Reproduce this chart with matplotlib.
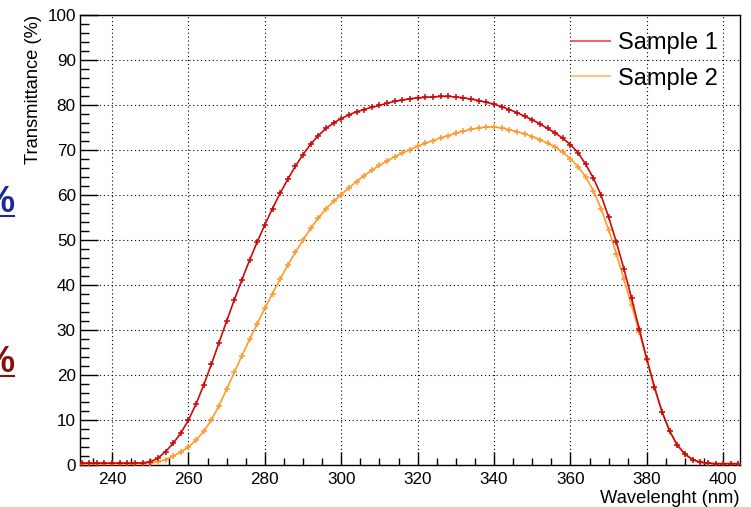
import numpy as np
import matplotlib
matplotlib.use("Agg")
import matplotlib.pyplot as plt
from matplotlib.lines import Line2D
from matplotlib.ticker import MultipleLocator

plt.rcParams['font.family'] = ['Liberation Sans', 'DejaVu Sans']

## data (every 2 nm)
wavelength = np.arange(232, 405, 2)

sample1 = [0.4, 0.4, 0.4, 0.4, 0.4, 0.4, 0.4, 0.4, 0.5, 0.7,          # 232-250
           1.5, 3.0, 4.8, 7.1, 10.0, 13.6, 17.8, 22.4, 27.2, 32.0,     # 252-270
           36.7, 41.2, 45.5, 49.6, 53.4, 57.0, 60.4, 63.5, 66.4, 69.0, # 272-290
           71.3, 73.2, 74.8, 76.0, 77.0, 77.8, 78.5, 79.0, 79.5, 79.9, # 292-310
           80.4, 80.8, 81.1, 81.4, 81.6, 81.7, 81.8, 81.9, 81.9, 81.8, # 312-330
           81.6, 81.3, 81.0, 80.6, 80.2, 79.6, 79.0, 78.3, 77.5, 76.7, # 332-350
           75.8, 74.8, 73.8, 72.6, 71.2, 69.4, 66.8, 63.8, 60.0, 55.1, # 352-370
           49.6, 43.6, 37.1, 30.3, 23.6, 17.3, 11.8, 7.5, 4.4, 2.4,    # 372-390
           1.2, 0.6, 0.4, 0.3, 0.3, 0.3, 0.3]                          # 392-404

sample2 = [0.3, 0.3, 0.3, 0.3, 0.3, 0.3, 0.3, 0.3, 0.3, 0.4,          # 232-250
           0.7, 1.2, 2.0, 2.9, 4.0, 5.5, 7.5, 10.0, 13.2, 16.8,        # 252-270
           20.6, 24.3, 27.9, 31.4, 34.8, 38.1, 41.3, 44.4, 47.3, 50.0, # 272-290
           52.6, 54.9, 56.9, 58.6, 60.1, 61.6, 63.0, 64.3, 65.5, 66.6, # 292-310
           67.6, 68.5, 69.3, 70.1, 70.8, 71.5, 72.1, 72.7, 73.2, 73.7, # 312-330
           74.2, 74.6, 74.9, 75.1, 75.1, 74.9, 74.5, 74.1, 73.6, 73.0, # 332-350
           72.3, 71.5, 70.7, 69.5, 68.1, 66.3, 64.0, 61.0, 57.0, 52.3, # 352-370
           47.0, 41.3, 35.5, 29.6, 23.3, 17.2, 11.8, 7.5, 4.4, 2.4,    # 372-390
           1.2, 0.6, 0.4, 0.3, 0.3, 0.3, 0.3]                          # 392-404

labels = ["Sample 1", "Sample 2"]
colors = ["#cc0a0a", "#ff9a2e"]

## figure
fig = plt.figure(figsize=(7.51, 5.07), dpi=100)
ax = fig.add_axes([80/751, 1-465/507, 660/751, 450/507])

ax.plot(wavelength, sample2, color=colors[1], lw=1.2, marker='+', ms=5, mew=1.1, zorder=3)
ax.plot(wavelength, sample1, color=colors[0], lw=1.2, marker='+', ms=5, mew=1.1, zorder=4)

ax.set_xlim(231.6, 404.4)
ax.set_ylim(0, 100)

ax.xaxis.set_major_locator(MultipleLocator(20))
ax.xaxis.set_minor_locator(MultipleLocator(5))
ax.yaxis.set_major_locator(MultipleLocator(10))
ax.yaxis.set_minor_locator(MultipleLocator(2))
ax.tick_params(axis='x', which='major', direction='in', length=9.4, width=1, labelsize=12.3, pad=5)
ax.tick_params(axis='x', which='minor', direction='in', length=5, width=1)
ax.tick_params(axis='y', which='major', direction='in', length=13, width=1, labelsize=12.3, pad=3)
ax.tick_params(axis='y', which='minor', direction='in', length=6.5, width=1)

ax.grid(True, which='major', color='black', linestyle=(0, (1, 2.5)), linewidth=0.8)
ax.set_axisbelow(True)
for s in ax.spines.values():
    s.set_linewidth(1)

ax.set_xlabel("Wavelenght (nm)", fontsize=13.2, loc='right', labelpad=2)
ax.set_ylabel("Transmittance (%)", fontsize=13.2, loc='top', labelpad=4)

## legend
handles = [Line2D([0], [0], color=colors[0], lw=1.5, alpha=0.6),
           Line2D([0], [0], color=colors[1], lw=1.5, alpha=0.6)]
fig.legend(handles, labels, loc='upper left', bbox_to_anchor=(572/751, 1-32/507),
           frameon=False, fontsize=17, handlelength=1.6, handletextpad=0.35,
           labelspacing=0.58, borderpad=0, borderaxespad=0)

## cropped bits at the left edge of the screenshot
fig.text(14/751, 1-212/507, "%", color="#1a2a9a", fontsize=26, fontweight='bold', ha='right', va='baseline')
fig.add_artist(Line2D([0, 14/751], [1-216/507, 1-216/507], color="#1a2a9a", lw=1.5))
fig.text(14/751, 1-372/507, "%", color="#8a1010", fontsize=26, fontweight='bold', ha='right', va='baseline')
fig.add_artist(Line2D([0, 14/751], [1-376/507, 1-376/507], color="#8a1010", lw=1.5))

fig.savefig("out.png", dpi=100)
